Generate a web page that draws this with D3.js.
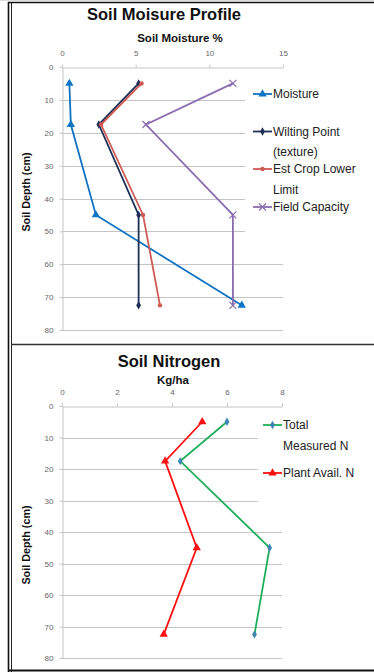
<!DOCTYPE html>
<html>
<head>
<meta charset="utf-8">
<script src="https://cdn.jsdelivr.net/npm/d3@7"></script>
<style>
  body { margin: 0; background: #fff; }
  svg { display: block; font-family: "Liberation Sans", Arial, sans-serif; }
  .tick text { fill: #666; font-size: 8px; }
  .tick line, .domain { stroke: #c4c4c4; }
</style>
</head>
<body>
<svg id="page" width="374" height="672"></svg>
<script>
// depths (cm) where the samples were taken
var depth = [5, 17.5, 45, 72.5];

// soil moisture %
var moisture = [0.5, 0.6, 2.3, 12.2];
var wiltingPoint = [5.2, 2.5, 5.2, 5.2];
var cropLowerLimit = [5.4, 2.65, 5.5, 6.65];
var fieldCapacity = [11.6, 5.7, 11.6, 11.6];

// nitrogen kg/ha
var totalN = [6.0, 4.3, 7.55, 7.0];
var plantAvailN = [5.1, 3.75, 4.9, 3.7];

var moistureTicks = [0, 5, 10, 15];
var nitrogenTicks = [0, 2, 4, 6, 8];
var depthTicks = [0, 10, 20, 30, 40, 50, 60, 70, 80];

var svg = d3.select("#page");

// frame
svg.append("line").attr("x1", 8.5).attr("x2", 8.5).attr("y1", 2).attr("y2", 672)
  .attr("stroke", "#111").attr("stroke-width", 1.6);
svg.append("line").attr("x1", 11.5).attr("x2", 11.5).attr("y1", 3).attr("y2", 672)
  .attr("stroke", "#222").attr("stroke-width", 1);
svg.append("line").attr("x1", 8).attr("x2", 374).attr("y1", 2.5).attr("y2", 2.5)
  .attr("stroke", "#111").attr("stroke-width", 1.5);
svg.append("line").attr("x1", 0).attr("x2", 374).attr("y1", 0.5).attr("y2", 0.5)
  .attr("stroke", "#ddd").attr("stroke-width", 1);
svg.append("line").attr("x1", 11).attr("x2", 374).attr("y1", 344.5).attr("y2", 344.5)
  .attr("stroke", "#333").attr("stroke-width", 1.5);
svg.append("line").attr("x1", 8).attr("x2", 374).attr("y1", 670.5).attr("y2", 670.5)
  .attr("stroke", "#111").attr("stroke-width", 2);

function marker(g, type, x, y, color) {
  if (type == "triangle") {
    g.append("path").attr("d", d3.symbol(d3.symbolTriangle, 30)())
      .attr("transform", "translate(" + x + "," + y + ")").attr("fill", color);
  } else if (type == "diamond") {
    g.append("path").attr("d", d3.symbol(d3.symbolDiamond, 20)())
      .attr("transform", "translate(" + x + "," + y + ")").attr("fill", color);
  } else if (type == "circle") {
    g.append("circle").attr("cx", x).attr("cy", y).attr("r", 2.2).attr("fill", color);
  } else if (type == "x") {
    g.append("path").attr("d", "M-3.5,-3.5L3.5,3.5M-3.5,3.5L3.5,-3.5")
      .attr("transform", "translate(" + x + "," + y + ")")
      .attr("stroke", color).attr("stroke-width", 1.2).attr("fill", "none");
  }
}

function panel(opts) {
  var x = d3.scaleLinear().domain([opts.ticks[0], opts.ticks[opts.ticks.length - 1]]).range(opts.xRange);
  var y = d3.scaleLinear().domain([0, 80]).range(opts.yRange);
  var g = svg.append("g");

  // titles
  g.append("text").attr("x", opts.titleX).attr("y", opts.titleY)
    .attr("text-anchor", "middle").attr("font-weight", "bold").attr("font-size", opts.titleSize)
    .attr("fill", "#111").text(opts.title);
  g.append("text").attr("x", opts.xTitleX).attr("y", opts.xTitleY)
    .attr("text-anchor", "middle").attr("font-weight", "bold").attr("font-size", 11.5)
    .attr("fill", "#111").text(opts.xTitle);
  g.append("text")
    .attr("transform", "translate(30," + opts.yTitleY + ") rotate(-90)")
    .attr("text-anchor", "middle").attr("font-weight", "bold").attr("font-size", 10.8)
    .attr("fill", "#111").text("Soil Depth (cm)");

  // gridlines
  g.selectAll(".grid").data(depthTicks.slice(1)).enter().append("line")
    .attr("x1", opts.xRange[0]).attr("x2", opts.xRange[1])
    .attr("y1", function (d) { return Math.round(y(d)) + 0.5; })
    .attr("y2", function (d) { return Math.round(y(d)) + 0.5; })
    .attr("stroke", "#c4c4c4").attr("stroke-width", 1);

  g.append("g").attr("transform", "translate(0," + (Math.round(y(0)) + 0.5) + ")")
    .call(d3.axisTop(x).tickValues(opts.ticks).tickSize(3).tickSizeOuter(0).tickPadding(9))
    .call(function (a) { a.selectAll("text").attr("font-size", 8); });
  g.append("g").attr("transform", "translate(" + (opts.xRange[0] + 0.5) + ",0)")
    .call(d3.axisLeft(y).tickValues(depthTicks).tickSize(3).tickSizeOuter(0).tickPadding(6))
    .call(function (a) { a.selectAll("text").attr("font-size", 8); });

  // legend box hides the grid behind it
  var lb = opts.legendBox;
  g.append("rect").attr("x", lb[0]).attr("y", lb[1]).attr("width", lb[2]).attr("height", lb[3])
    .attr("fill", "#fff");

  var line = d3.line()
    .x(function (d) { return x(d[0]); })
    .y(function (d) { return y(d[1]); });

  opts.series.forEach(function (s) {
    var pts = s.values.map(function (v, i) { return [v, depth[i]]; });
    g.append("path").datum(pts).attr("d", line)
      .attr("fill", "none").attr("stroke", s.color).attr("stroke-width", 1.8);
    pts.forEach(function (p) {
      marker(g, s.marker, x(p[0]), y(p[1]), s.markerColor || s.color);
    });

    // legend entry
    g.append("line").attr("x1", opts.legendX).attr("x2", opts.legendX + 19)
      .attr("y1", s.legendY).attr("y2", s.legendY)
      .attr("stroke", s.color).attr("stroke-width", 1.8);
    marker(g, s.marker, opts.legendX + 9.5, s.legendY, s.markerColor || s.color);
    s.label.forEach(function (t, i) {
      g.append("text").attr("x", opts.legendX + 20).attr("y", s.legendY + i * 20.5)
        .attr("dy", "0.35em").attr("font-size", 12).attr("fill", "#222").text(t);
    });
  });
}

panel({
  title: "Soil Moisure Profile", titleX: 164, titleY: 20, titleSize: 16.5,
  xTitle: "Soil Moisture %", xTitleX: 180, xTitleY: 42,
  yTitleY: 192,
  ticks: moistureTicks, xRange: [62, 283], yRange: [67, 330],
  legendBox: [245, 75, 129, 165], legendX: 253,
  series: [
    { values: moisture, color: "#0f74c4", marker: "triangle", label: ["Moisture"], legendY: 94 },
    { values: wiltingPoint, color: "#1c2f57", marker: "diamond", label: ["Wilting Point", "(texture)"], legendY: 131.5 },
    { values: cropLowerLimit, color: "#cd5a55", marker: "circle", label: ["Est Crop Lower", "Limit"], legendY: 169 },
    { values: fieldCapacity, color: "#8a6bb0", marker: "x", label: ["Field Capacity"], legendY: 207 }
  ]
});

panel({
  title: "Soil Nitrogen", titleX: 169, titleY: 367, titleSize: 16.5,
  xTitle: "Kg/ha", xTitleX: 173, xTitleY: 384,
  yTitleY: 545,
  ticks: nitrogenTicks, xRange: [62, 282], yRange: [406, 658],
  legendBox: [258, 412, 116, 104], legendX: 263,
  series: [
    { values: totalN, color: "#1fae5a", markerColor: "#3d86b4", marker: "diamond", label: ["Total", "Measured N"], legendY: 425 },
    { values: plantAvailN, color: "#ff1010", marker: "triangle", label: ["Plant Avail. N"], legendY: 473 }
  ]
});
</script>
</body>
</html>
